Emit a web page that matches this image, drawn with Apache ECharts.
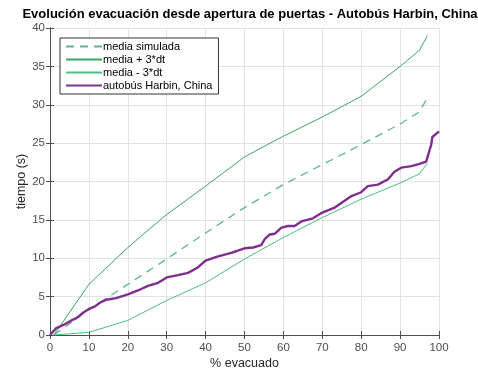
<!DOCTYPE html>
<html>
<head>
<meta charset="utf-8">
<script src="https://cdn.jsdelivr.net/npm/echarts@6/dist/echarts.min.js"></script>
<style>
html,body{margin:0;padding:0;background:#fff;}
#c{width:478px;height:372px;}
</style>
</head>
<body>
<div id="c"></div>
<script>
// Simulated curves (x = % evacuado)
const simPct   = [1, 10, 20, 30, 40, 50, 60, 70, 80, 90, 95, 97];
const simMean  = [0, 3.3, 6.6, 9.9, 13.3, 16.6, 19.6, 22.2, 24.8, 27.5, 29.1, 30.9];
const simUpper = [0, 6.6, 11.4, 15.7, 19.4, 23.2, 25.9, 28.4, 31.1, 35.0, 37.1, 39.0];
const simLower = [0, 0.35, 1.9, 4.5, 6.8, 9.9, 12.7, 15.3, 17.7, 19.8, 21.0, 22.4];

// Observed: autobús Harbin, China
const busPct  = [0, 1.6, 2.5, 3.8, 5.5, 6.8, 8.5, 10, 11.5, 12.8, 14.5, 17, 20, 22.6, 25.2, 27.8, 30, 32.9, 35.5, 38, 40, 43, 46.6, 50, 52.2, 54.3, 55.2, 56.5, 57.8, 59.5, 61.2, 62.9, 64.6, 67.6, 69.8, 73.2, 74.9, 77.5, 80, 81.7, 84.3, 86.9, 88.6, 90.3, 92.9, 95, 96.7, 98, 98.3, 99.7, 100];
const busTime = [0, 0.9, 1.1, 1.4, 1.9, 2.2, 2.9, 3.4, 3.7, 4.2, 4.6, 4.8, 5.3, 5.8, 6.4, 6.8, 7.5, 7.8, 8.1, 8.8, 9.7, 10.2, 10.7, 11.3, 11.4, 11.7, 12.5, 13.1, 13.2, 14.0, 14.2, 14.2, 14.8, 15.2, 15.9, 16.6, 17.2, 18.1, 18.6, 19.4, 19.6, 20.3, 21.3, 21.8, 22.0, 22.3, 22.6, 24.8, 25.8, 26.4, 26.5];

const xTicks = [0,10,20,30,40,50,60,70,80,90,100];
const yTicks = [0,5,10,15,20,25,30,35,40];

const zip = (xs, ys) => xs.map((x, i) => [x, ys[i]]);
const FONT = 'Liberation Sans, Arial, Helvetica, sans-serif';
const axisCol = '#4d4d4d';

const chart = echarts.init(document.getElementById('c'), null, {renderer: 'canvas'});
const commonX = {
  type: 'value', min: 0, max: 100, interval: 10,
  axisLine: {show: true, lineStyle: {color: axisCol, width: 1}},
  axisTick: {show: true, inside: true, length: 4, lineStyle: {color: axisCol}},
  splitLine: {show: false}
};
const commonY = {
  type: 'value', min: 0, max: 40, interval: 5,
  axisLine: {show: true, lineStyle: {color: axisCol, width: 1}},
  axisTick: {show: true, inside: true, length: 4, lineStyle: {color: axisCol}},
  splitLine: {show: false}
};
chart.setOption({
  animation: false,
  backgroundColor: '#fff',
  title: {
    text: 'Evolución evacuación desde apertura de puertas - Autobús Harbin, China',
    left: 245, top: 3, textAlign: 'center',
    textStyle: {fontFamily: FONT, fontSize: 13, fontWeight: 'bold', color: '#000'}
  },
  grid: {left: 50, right: 39, top: 28, bottom: 37, containLabel: false, outerBoundsMode: 'none'},
  legend: {
    left: 60, top: 38, orient: 'vertical',
    backgroundColor: '#fff', borderColor: '#333', borderWidth: 1,
    padding: [3, 6, 3, 5], itemGap: 2,
    itemWidth: 36, itemHeight: 12,
    itemStyle: {opacity: 0},
    textStyle: {fontFamily: FONT, fontSize: 11, color: '#000', padding: [0, 0, 0, -4]},
    data: ['media simulada', 'media + 3*dt', 'media - 3*dt', 'autobús Harbin, China']
  },
  xAxis: [
    Object.assign({}, commonX, {
      position: 'bottom', name: '% evacuado', nameLocation: 'middle', nameGap: 22, nameMoveOverlap: false,
      nameTextStyle: {fontFamily: FONT, fontSize: 12.5, color: '#262626'},
      axisLabel: {fontFamily: FONT, fontSize: 11.5, color: axisCol, margin: 7,
        formatter: v => xTicks.includes(v) ? String(v) : ''},
      splitLine: {show: true, lineStyle: {color: '#e3e3e3', width: 1}}
    }),
    Object.assign({}, commonX, {position: 'top', axisLabel: {show: false}})
  ],
  yAxis: [
    Object.assign({}, commonY, {
      position: 'left', name: 'tiempo (s)', nameLocation: 'middle', nameGap: 22, nameMoveOverlap: false,
      nameTextStyle: {fontFamily: FONT, fontSize: 12.5, color: '#262626'},
      axisLabel: {fontFamily: FONT, fontSize: 11.5, color: axisCol, margin: 5,
        formatter: v => yTicks.includes(v) ? String(v) : ''},
      splitLine: {show: true, lineStyle: {color: '#e3e3e3', width: 1}}
    }),
    Object.assign({}, commonY, {position: 'right', axisLabel: {show: false}})
  ],
  series: [
    {name: 'media simulada', type: 'line', data: zip(simPct, simMean), showSymbol: false, symbol: 'none',
     lineStyle: {color: '#5cb88a', width: 1.3, type: [8, 6]}, itemStyle: {color: '#5cb88a'}, z: 2},
    {name: 'media + 3*dt', type: 'line', data: zip(simPct, simUpper), showSymbol: false, symbol: 'none',
     lineStyle: {color: '#35a862', width: 1}, itemStyle: {color: '#35a862'}, z: 2},
    {name: 'media - 3*dt', type: 'line', data: zip(simPct, simLower), showSymbol: false, symbol: 'none',
     lineStyle: {color: '#4cbf80', width: 1}, itemStyle: {color: '#4cbf80'}, z: 2},
    {name: 'autobús Harbin, China', type: 'line', data: zip(busPct, busTime), showSymbol: false, symbol: 'none',
     lineStyle: {color: '#7e2f8e', width: 2.4}, itemStyle: {color: '#7e2f8e'}, z: 3}
  ]
});
</script>
</body>
</html>
